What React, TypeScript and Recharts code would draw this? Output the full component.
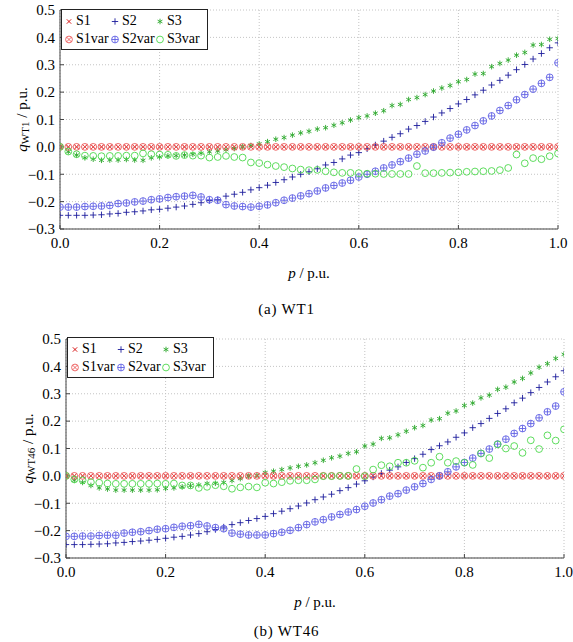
import React from "react";
import { ScatterChart, Scatter, XAxis, YAxis, CartesianGrid, Legend } from "recharts";

// active power p (p.u.), 61 operating points
const P = [
  0, 0.0167, 0.0333, 0.05, 0.0667, 0.0833, 0.1, 0.1167, 0.1333, 0.15,
  0.1667, 0.1833, 0.2, 0.2167, 0.2333, 0.25, 0.2667, 0.2833, 0.3, 0.3167,
  0.3333, 0.35, 0.3667, 0.3833, 0.4, 0.4167, 0.4333, 0.45, 0.4667, 0.4833,
  0.5, 0.5167, 0.5333, 0.55, 0.5667, 0.5833, 0.6, 0.6167, 0.6333, 0.65,
  0.6667, 0.6833, 0.7, 0.7167, 0.7333, 0.75, 0.7667, 0.7833, 0.8, 0.8167,
  0.8333, 0.85, 0.8667, 0.8833, 0.9, 0.9167, 0.9333, 0.95, 0.9667, 0.9833,
  1.0,
];

// S1 / S1var stay at zero in both plots
const ZEROS = [
  0, 0, 0, 0, 0, 0, 0, 0, 0, 0,
  0, 0, 0, 0, 0, 0, 0, 0, 0, 0,
  0, 0, 0, 0, 0, 0, 0, 0, 0, 0,
  0, 0, 0, 0, 0, 0, 0, 0, 0, 0,
  0, 0, 0, 0, 0, 0, 0, 0, 0, 0,
  0, 0, 0, 0, 0, 0, 0, 0, 0, 0,
  0,
];

// (a) WT1
const WT1_S2 = [
  -0.25, -0.25, -0.25, -0.25, -0.249, -0.248, -0.245, -0.243, -0.239, -0.237,
  -0.234, -0.23, -0.228, -0.224, -0.22, -0.216, -0.21, -0.204, -0.196, -0.193,
  -0.18, -0.173, -0.166, -0.157, -0.149, -0.14, -0.13, -0.12, -0.11, -0.1,
  -0.091, -0.08, -0.066, -0.057, -0.044, -0.03, -0.021, -0.007, 0.007, 0.021,
  0.035, 0.048, 0.065, 0.078, 0.093, 0.109, 0.124, 0.14, 0.157, 0.173,
  0.19, 0.207, 0.226, 0.243, 0.262, 0.282, 0.301, 0.321, 0.341, 0.362,
  0.38,
];
const WT1_S3 = [
  0, -0.018, -0.03, -0.04, -0.045, -0.049, -0.048, -0.048, -0.046, -0.048,
  -0.049, -0.04, -0.037, -0.033, -0.032, -0.03, -0.027, -0.023, -0.018, -0.015,
  -0.01, -0.006, 0.0, 0.005, 0.011, 0.019, 0.028, 0.034, 0.043, 0.051,
  0.057, 0.065, 0.07, 0.079, 0.088, 0.098, 0.107, 0.113, 0.123, 0.132,
  0.151, 0.155, 0.173, 0.18, 0.191, 0.204, 0.215, 0.224, 0.238, 0.246,
  0.266, 0.268, 0.293, 0.305, 0.317, 0.335, 0.345, 0.372, 0.374, 0.393,
  0.396,
];
const WT1_S2VAR = [
  -0.22, -0.22, -0.22, -0.218, -0.217, -0.216, -0.214, -0.207, -0.205, -0.201,
  -0.198, -0.193, -0.19, -0.185, -0.182, -0.18, -0.177, -0.183, -0.193, -0.195,
  -0.211, -0.216, -0.218, -0.22, -0.217, -0.212, -0.204, -0.195, -0.187, -0.179,
  -0.171, -0.161, -0.15, -0.141, -0.132, -0.122, -0.11, -0.1, -0.089, -0.077,
  -0.066, -0.054, -0.041, -0.027, -0.015, -0.001, 0.015, 0.032, 0.046, 0.062,
  0.078, 0.095, 0.113, 0.133, 0.151, 0.172, 0.191, 0.211, 0.232, 0.254,
  0.307,
];
const WT1_S3VAR = [
  0, -0.017, -0.027, -0.032, -0.033, -0.034, -0.033, -0.033, -0.032, -0.032,
  -0.024, -0.027, -0.028, -0.029, -0.033, -0.03, -0.032, -0.032, -0.039, -0.037,
  -0.033, -0.037, -0.039, -0.057, -0.059, -0.065, -0.07, -0.074, -0.079, -0.083,
  -0.085, -0.084, -0.089, -0.093, -0.095, -0.095, -0.096, -0.098, -0.098, -0.099,
  -0.099, -0.099, -0.099, -0.07, -0.096, -0.096, -0.095, -0.094, -0.093, -0.091,
  -0.09, -0.089, -0.088, -0.085, -0.077, -0.028, -0.06, -0.041, -0.045, -0.034,
  -0.024,
];

// (b) WT46
const WT46_S2 = [
  -0.251, -0.251, -0.251, -0.25, -0.249, -0.248, -0.245, -0.243, -0.24, -0.238,
  -0.235, -0.232, -0.228, -0.224, -0.221, -0.216, -0.211, -0.204, -0.196, -0.187,
  -0.178, -0.171, -0.163, -0.156, -0.148, -0.138, -0.129, -0.12, -0.11, -0.099,
  -0.087, -0.077, -0.067, -0.054, -0.043, -0.03, -0.018, -0.004, 0.009, 0.021,
  0.033, 0.049, 0.063, 0.079, 0.096, 0.11, 0.124, 0.141, 0.157, 0.176,
  0.191, 0.21, 0.228, 0.245, 0.267, 0.284, 0.304, 0.323, 0.343, 0.362,
  0.384,
];
const WT46_S3 = [
  0, -0.016, -0.024, -0.035, -0.044, -0.048, -0.052, -0.052, -0.052, -0.052,
  -0.052, -0.051, -0.046, -0.044, -0.04, -0.036, -0.033, -0.028, -0.027, -0.024,
  -0.017, -0.01, -0.001, 0.002, 0.012, 0.017, 0.023, 0.029, 0.035, 0.04,
  0.048, 0.057, 0.066, 0.072, 0.082, 0.088, 0.109, 0.116, 0.137, 0.139,
  0.15, 0.163, 0.176, 0.184, 0.204, 0.209, 0.229, 0.237, 0.257, 0.266,
  0.285, 0.295, 0.316, 0.324, 0.343, 0.356, 0.376, 0.397, 0.41, 0.429,
  0.444,
];
const WT46_S2VAR = [
  -0.221, -0.221, -0.22, -0.22, -0.218, -0.217, -0.217, -0.209, -0.206, -0.204,
  -0.2, -0.195, -0.193, -0.188, -0.184, -0.182, -0.177, -0.183, -0.189, -0.193,
  -0.209, -0.213, -0.216, -0.216, -0.216, -0.211, -0.206, -0.199, -0.189, -0.178,
  -0.168, -0.16, -0.15, -0.141, -0.132, -0.123, -0.111, -0.099, -0.087, -0.074,
  -0.065, -0.052, -0.04, -0.028, -0.013, 0.0, 0.015, 0.033, 0.049, 0.065,
  0.082, 0.098, 0.116, 0.134, 0.155, 0.173, 0.191, 0.212, 0.234, 0.255,
  0.307,
];
const WT46_S3VAR = [
  0, -0.013, -0.016, -0.023, -0.025, -0.028, -0.029, -0.029, -0.029, -0.029,
  -0.029, -0.028, -0.029, -0.028, -0.035, -0.035, -0.044, -0.04, -0.034, -0.038,
  -0.047, -0.042, -0.039, -0.042, -0.025, -0.028, -0.023, -0.018, -0.016, -0.016,
  -0.013, -0.001, -0.001, 0.0, 0.0, 0.025, -0.001, 0.023, 0.039, 0.035,
  0.048, 0.048, 0.055, 0.03, 0.048, 0.07, 0.048, 0.054, 0.048, 0.04,
  0.082, 0.065, 0.115, 0.1, 0.109, 0.084, 0.13, 0.098, 0.148, 0.129,
  0.17,
];

const X_TICKS = [0, 0.2, 0.4, 0.6, 0.8, 1.0];
const Y_TICKS = [-0.3, -0.2, -0.1, 0, 0.1, 0.2, 0.3, 0.4, 0.5];

const SERIES_NAMES = ["S1", "S2", "S3", "S1var", "S2var", "S3var"];

const FONT = "'Liberation Serif', 'DejaVu Serif', serif";

type Kind = "x" | "+" | "*" | "otimes" | "oplus" | "o";

const STYLES: { kind: Kind; color: string }[] = [
  { kind: "x", color: "#d40000" },
  { kind: "+", color: "#1c1c9c" },
  { kind: "*", color: "#2ca82c" },
  { kind: "otimes", color: "#ec5858" },
  { kind: "oplus", color: "#6060e4" },
  { kind: "o", color: "#4cd84c" },
];

const Marker = ({ kind, color, cx, cy }: { kind: Kind; color: string; cx: number; cy: number }) => {
  const r = 3.4;
  const sw = 0.9;
  if (kind === "x") {
    const a = 2.2;
    return (
      <path d={`M${cx - a},${cy - a}L${cx + a},${cy + a}M${cx - a},${cy + a}L${cx + a},${cy - a}`} stroke={color} strokeWidth={sw} fill="none" />
    );
  }
  if (kind === "+") {
    const a = 3.2;
    return <path d={`M${cx - a},${cy}L${cx + a},${cy}M${cx},${cy - a}L${cx},${cy + a}`} stroke={color} strokeWidth={sw} fill="none" />;
  }
  if (kind === "*") {
    const a = 2.8;
    const dx = a * 0.866;
    const dy = a * 0.5;
    return (
      <path
        d={`M${cx},${cy - a}L${cx},${cy + a}M${cx - dx},${cy - dy}L${cx + dx},${cy + dy}M${cx - dx},${cy + dy}L${cx + dx},${cy - dy}`}
        stroke={color}
        strokeWidth={sw}
        fill="none"
      />
    );
  }
  if (kind === "otimes") {
    const a = r * 0.707;
    return (
      <g stroke={color} strokeWidth={sw} fill="none">
        <circle cx={cx} cy={cy} r={r} />
        <path d={`M${cx - a},${cy - a}L${cx + a},${cy + a}M${cx - a},${cy + a}L${cx + a},${cy - a}`} />
      </g>
    );
  }
  if (kind === "oplus") {
    return (
      <g stroke={color} strokeWidth={sw} fill="none">
        <circle cx={cx} cy={cy} r={r} />
        <path d={`M${cx - r},${cy}L${cx + r},${cy}M${cx},${cy - r}L${cx},${cy + r}`} />
      </g>
    );
  }
  return <circle cx={cx} cy={cy} r={r} stroke={color} strokeWidth={sw} fill="none" />;
};

const fmt = (v: number) => (v < -1e-9 ? "\u2212" : "") + Math.abs(v).toFixed(1);

const LegendBox = () => (
  <div
    style={{
      border: "1px solid #222",
      background: "#fff",
      padding: "2px 2px 1px 2px",
      display: "grid",
      gridTemplateColumns: "46px 45px 50px",
      fontFamily: FONT,
      fontSize: 14,
      lineHeight: "18px",
      color: "#000",
    }}
  >
    {SERIES_NAMES.map((name, i) => (
      <div key={name} style={{ display: "flex", alignItems: "center" }}>
        <svg width={10} height={11} style={{ marginRight: 2 }}>
          <Marker kind={STYLES[i].kind} color={STYLES[i].color} cx={5} cy={5.5} />
        </svg>
        <span>{name}</span>
      </div>
    ))}
  </div>
);

const xLabel = (props: any) => {
  const { x, y, width } = props.viewBox;
  return (
    <text x={x + width / 2} y={y + 49} textAnchor="middle" style={{ fontFamily: FONT, fontSize: 15 }} fill="#000">
      <tspan fontStyle="italic">p</tspan>
      <tspan> / p.u.</tspan>
    </text>
  );
};

const yLabel = (sub: string) => (props: any) => {
  const { x, y, height } = props.viewBox;
  const cx = x + 7;
  const cy = y + height / 2;
  return (
    <text
      transform={`rotate(-90 ${cx} ${cy})`}
      x={cx}
      y={cy}
      textAnchor="middle"
      dominantBaseline="central"
      style={{ fontFamily: FONT, fontSize: 15 }}
      fill="#000"
    >
      <tspan fontStyle="italic">q</tspan>
      <tspan fontSize={11} dy={3}>{sub}</tspan>
      <tspan dy={-3}> / p.u.</tspan>
    </text>
  );
};

const PANELS = [
  {
    caption: "(a) WT1",
    sub: "WT1",
    top: 0,
    captionTop: 300,
    margin: { top: 10, right: 15, bottom: 16, left: 15 },
    legendPos: { top: 9, left: 61 },
    values: [ZEROS, WT1_S2, WT1_S3, ZEROS, WT1_S2VAR, WT1_S3VAR],
  },
  {
    caption: "(b) WT46",
    sub: "WT46",
    top: 330,
    captionTop: 622,
    margin: { top: 9, right: 9, bottom: 17, left: 21 },
    legendPos: { top: 7, left: 67 },
    values: [ZEROS, WT46_S2, WT46_S3, ZEROS, WT46_S2VAR, WT46_S3VAR],
  },
];

const FRAME = "#444";
const tickStyle = { fill: "#000", fontSize: 15, fontFamily: FONT };

const Panel = ({ panel }: { panel: (typeof PANELS)[number] }) => (
  <div style={{ position: "absolute", left: 0, top: panel.top }}>
    <ScatterChart width={573} height={290} margin={panel.margin} style={{ fontFamily: FONT }}>
      <CartesianGrid stroke="#c4c4c4" strokeDasharray="1 2" />
      <XAxis
        dataKey="p"
        type="number"
        domain={[0, 1]}
        ticks={X_TICKS}
        allowDataOverflow
        tickFormatter={fmt}
        height={45}
        tickSize={-4}
        tickMargin={12}
        tick={tickStyle}
        stroke={FRAME}
        label={xLabel}
      />
      <XAxis
        xAxisId="top"
        orientation="top"
        type="number"
        domain={[0, 1]}
        ticks={X_TICKS}
        allowDataOverflow
        height={0}
        tickSize={-4}
        tick={false}
        stroke={FRAME}
      />
      <YAxis
        dataKey="q"
        type="number"
        domain={[-0.3, 0.5]}
        ticks={Y_TICKS}
        allowDataOverflow
        tickFormatter={fmt}
        width={45}
        tickSize={-4}
        tickMargin={9}
        tick={tickStyle}
        stroke={FRAME}
        label={yLabel(panel.sub)}
      />
      <YAxis
        yAxisId="right"
        orientation="right"
        type="number"
        domain={[-0.3, 0.5]}
        ticks={Y_TICKS}
        allowDataOverflow
        width={0}
        tickSize={-4}
        tick={false}
        stroke={FRAME}
      />
      {SERIES_NAMES.map((name, i) => (
        <Scatter
          key={name}
          name={name}
          data={P.map((p, j) => ({ p, q: panel.values[i][j] }))}
          isAnimationActive={false}
          shape={(props: any) => <Marker kind={STYLES[i].kind} color={STYLES[i].color} cx={props.cx} cy={props.cy} />}
        />
      ))}
      <Legend
        layout="horizontal"
        verticalAlign="middle"
        align="center"
        wrapperStyle={{ top: panel.legendPos.top, left: panel.legendPos.left, width: "auto" }}
        content={() => <LegendBox />}
      />
    </ScatterChart>
    <div
      style={{
        position: "absolute",
        left: 0,
        top: panel.captionTop - panel.top,
        width: 573,
        textAlign: "center",
        fontFamily: FONT,
        fontSize: 15,
        letterSpacing: 0.8,
        lineHeight: "18px",
        color: "#000",
      }}
    >
      {panel.caption}
    </div>
  </div>
);

export default function App() {
  return (
    <div style={{ position: "absolute", left: 0, top: 0, width: 573, height: 642, background: "#fff", overflow: "hidden" }}>
      {PANELS.map((panel) => (
        <Panel key={panel.caption} panel={panel} />
      ))}
    </div>
  );
}
